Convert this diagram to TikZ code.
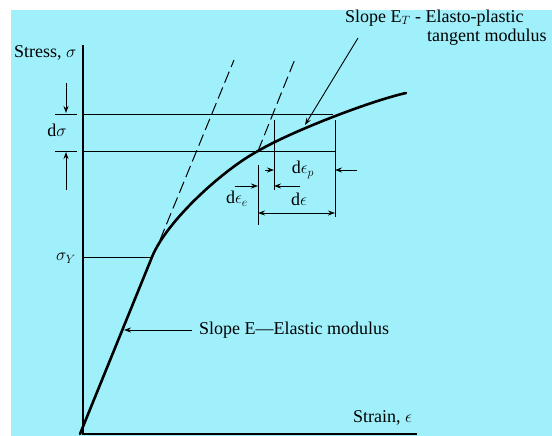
\documentclass[tikz,border=0pt]{standalone}
\usepackage{fontspec}
\setmainfont{Liberation Serif}
\usetikzlibrary{arrows.meta}
\definecolor{bgcyan}{RGB}{160,240,252}
\begin{document}
\begin{tikzpicture}[x=1pt,y=-1pt,
  lbl/.style={font=\fontsize{18}{20}\selectfont, inner sep=0pt},
  thinln/.style={line width=0.9pt},
  arr/.style={thinln,-{Stealth[length=7pt,width=5pt]}},
  darr/.style={thinln,{Stealth[length=7pt,width=5pt]}-{Stealth[length=7pt,width=5pt]}},
  curveln/.style={line width=2.6pt, line join=round, line cap=round},
  dashln/.style={line width=1pt, dash pattern=on 12pt off 5pt}]
\useasboundingbox (0,0) rectangle (552,436);
\fill[white] (0,0) rectangle (552,436);
\fill[bgcyan] (11,10) rectangle (552,436);
% coordinates
\coordinate (O) at (83,434);
\coordinate (ytop) at (83,45);
\coordinate (xend) at (417,434);
\coordinate (c0) at (80,434);
\coordinate (Y) at (152,257);
\coordinate (yaxY) at (83,257);
\coordinate (P) at (258,151);
\coordinate (Q) at (333,114);
\coordinate (E) at (406,93);
\coordinate (yaxP) at (83,151);
\coordinate (yaxQ) at (83,114);
\coordinate (rP) at (335,151);
% axes
\draw[line width=1.3pt] (ytop) -- (O) -- (xend);
% curve
\draw[curveln] (c0) -- (Y) .. controls (167,220) and (224.8,168.6) .. (P)
  .. controls (290,132) and (370,101) .. (E);
% dashed lines
\coordinate (d1a) at (160,240);
\coordinate (d1b) at (234,60);
\coordinate (d2b) at (295,59);
\draw[dashln] (d1a) -- (d1b);
\draw[dashln] (P) -- (d2b);
% horizontal lines
\draw[thinln] (yaxY) -- (Y);
\draw[thinln] (yaxQ) -- (Q);
\draw[thinln] (yaxP) -- (rP);
% dsigma ticks and arrows
\coordinate (t1a) at (55,114); \coordinate (t1b) at (77,114);
\coordinate (t2a) at (55,151); \coordinate (t2b) at (77,151);
\draw[thinln] (t1a) -- (t1b);
\draw[thinln] (t2a) -- (t2b);
\coordinate (ds1) at (66,83); \coordinate (ds1e) at (66,113);
\coordinate (ds2) at (66,190); \coordinate (ds2e) at (66,152);
\draw[arr] (ds1) -- (ds1e);
\draw[arr] (ds2) -- (ds2e);
% vertical strain lines
\coordinate (v1a) at (258,165); \coordinate (v1b) at (258,225);
\coordinate (v2a) at (274,120); \coordinate (v2b) at (274,190);
\coordinate (v3a) at (335,120); \coordinate (v3b) at (335,217);
\draw[thinln] (v1a) -- (v1b);
\draw[thinln] (v2a) -- (v2b);
\draw[thinln] (v3a) -- (v3b);
% strain arrows
\coordinate (ap1) at (265,170); \coordinate (ap1e) at (274,170);
\coordinate (ap2) at (357,170); \coordinate (ap2e) at (335,170);
\draw[arr] (ap1) -- (ap1e);
\draw[arr] (ap2) -- (ap2e);
\coordinate (ae1) at (235,186); \coordinate (ae1e) at (258,186);
\coordinate (ae2) at (300,186); \coordinate (ae2e) at (274,186);
\draw[arr] (ae1) -- (ae1e);
\draw[arr] (ae2) -- (ae2e);
\coordinate (de1) at (258,213); \coordinate (de2) at (335,213);
\draw[darr] (de1) -- (de2);
% slope pointers
\coordinate (sT) at (358,38); \coordinate (sTe) at (305,125);
\draw[arr] (sT) -- (sTe);
\coordinate (sE) at (192,330); \coordinate (sEe) at (124,330);
\draw[arr] (sE) -- (sEe);
% labels
\node[lbl, anchor=west] (stress) at (14,53) {Stress, $\sigma$};
\node[lbl] (dsig) at (57,130) {d$\sigma$};
\node[lbl] (sigY) at (66,258) {$\sigma_Y$};
\node[lbl, anchor=west] (slopeT) at (345,18) {Slope E$_T$ - Elasto-plastic};
\node[lbl, anchor=west] (tang) at (427,37) {tangent modulus};
\node[lbl] (dep) at (303,170) {d$\epsilon_p$};
\node[lbl] (dee) at (237,199) {d$\epsilon_e$};
\node[lbl] (de) at (299,199) {d$\epsilon$};
\node[lbl, anchor=west] (slopeE) at (199,330) {Slope E---Elastic modulus};
\node[lbl, anchor=west] (strain) at (353,418) {Strain, $\epsilon$};
\end{tikzpicture}
\end{document}
